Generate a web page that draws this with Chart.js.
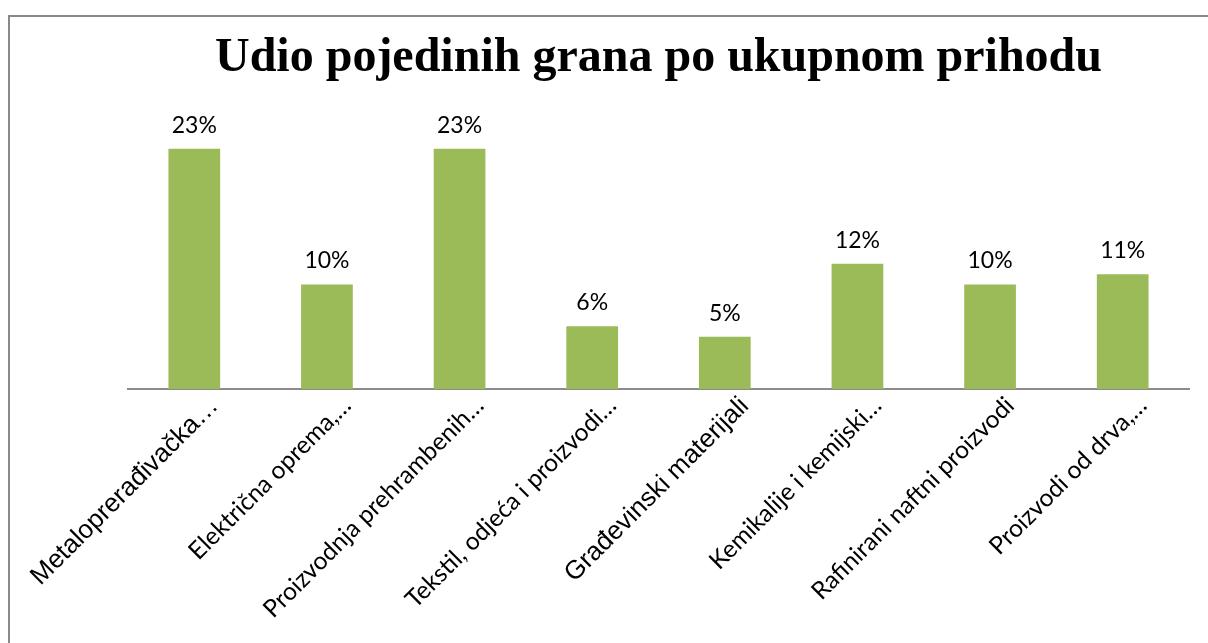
<!doctype html>
<html lang="hr">
<head>
<meta charset="utf-8">
<title>Udio pojedinih grana</title>
<script src="https://cdn.jsdelivr.net/npm/chart.js@4.4.1/dist/chart.umd.min.js"></script>
<style>
  html, body { margin: 0; padding: 0; background: #fff; overflow: hidden; }
  #frame { position: absolute; left: 8px; top: 15px; width: 1400px; height: 800px;
           border-left: 2px solid #898989; border-top: 2px solid #898989; }
  #wrap { position: absolute; left: 0; top: 0; width: 1208px; height: 643px; }
</style>
</head>
<body>
<div id="frame"></div>
<div id="wrap"><canvas id="chart" width="1208" height="643"></canvas></div>

<script>
// industry branches (labels truncated as in the original sheet)
var branches = [
  "Metaloprerađivačka…",
  "Električna oprema,…",
  "Proizvodnja prehrambenih…",
  "Tekstil, odjeća i proizvodi…",
  "Građevinski materijali",
  "Kemikalije i kemijski…",
  "Rafinirani naftni proizvodi",
  "Proizvodi od drva,…"
];
// share of total revenue, %
var shares = [23, 10, 23, 6, 5, 12, 10, 11];
// these two labels were set in Arial in the original
var arialLabels = [0, 4];

var barGreen = '#9BBB59';

// percent labels above bars
var valueLabels = {
  id: 'valueLabels',
  afterDatasetsDraw: function(chart) {
    var ctx = chart.ctx;
    var meta = chart.getDatasetMeta(0);
    ctx.save();
    ctx.font = '23px Lato';
    ctx.fillStyle = '#000';
    ctx.textAlign = 'center';
    ctx.textBaseline = 'bottom';
    meta.data.forEach(function(bar, i) {
      ctx.fillText(shares[i] + '%', bar.x, bar.y - 12);
    });
    ctx.restore();
  }
};

new Chart(document.getElementById('chart'), {
  type: 'bar',
  data: {
    labels: branches,
    datasets: [{
      data: shares,
      backgroundColor: barGreen,
      borderWidth: 0,
      barPercentage: 0.39,
      categoryPercentage: 1
    }]
  },
  options: {
    responsive: false,
    animation: false,
    layout: { padding: { left: 128, right: 19, top: 0, bottom: 0 } },
    plugins: {
      legend: { display: false },
      tooltip: { enabled: false },
      title: {
        display: true,
        text: 'Udio pojedinih grana po ukupnom prihodu',
        color: '#000',
        font: { family: 'Liberation Serif', size: 48, weight: 'bold', lineHeight: 1.2 },
        padding: { top: 30, bottom: 9 }
      }
    },
    scales: {
      x: {
        grid: { display: false, drawTicks: false },
        border: { display: true, color: '#8c8c8c', width: 2 },
        ticks: {
          autoSkip: false,
          minRotation: 45,
          maxRotation: 45,
          padding: 2,
          labelOffset: 20,
          color: '#000',
          font: function(c) {
            if (arialLabels.indexOf(c.index) >= 0) return { family: 'Liberation Sans', size: 26 };
            return { family: 'Lato', size: 24.5 };
          }
        },
        afterFit: function(scale) { scale.height = 254; }
      },
      y: {
        display: false,
        min: 0,
        max: 28
      }
    }
  },
  plugins: [valueLabels]
});
</script>
</body>
</html>
